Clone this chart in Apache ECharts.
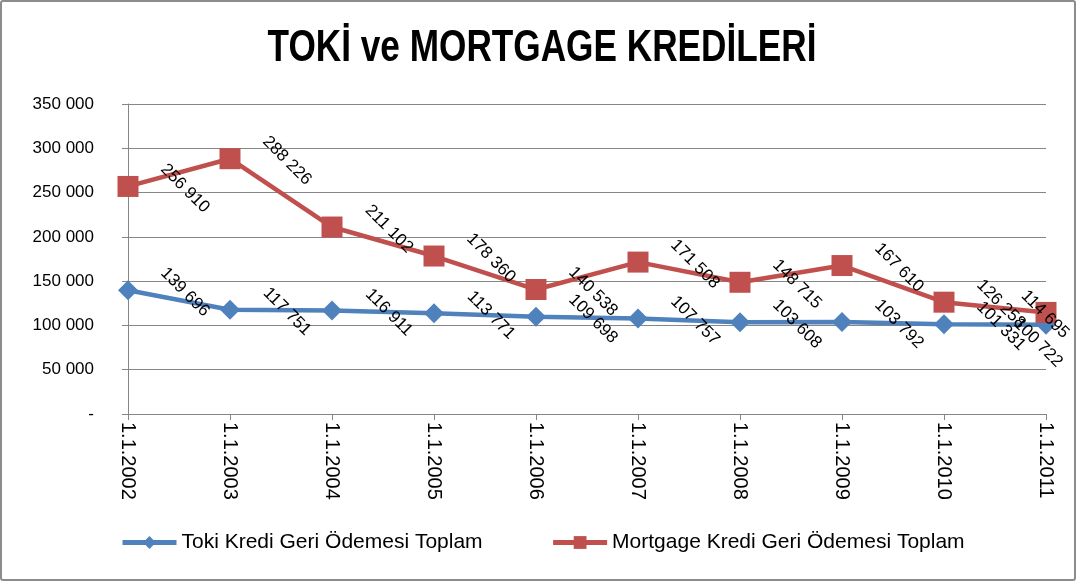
<!DOCTYPE html>
<html>
<head>
<meta charset="utf-8">
<script src="https://cdn.jsdelivr.net/npm/echarts@6/dist/echarts.min.js"></script>
<style>
  html, body { margin: 0; padding: 0; background: #fff; }
  #chart { width: 1076px; height: 581px; box-sizing: border-box; border: 2px solid #8c8c8c; border-radius: 3px; }
</style>
</head>
<body>
<div id="chart"></div>
<script>
// categories and values
var dates = ['1.1.2002', '1.1.2003', '1.1.2004', '1.1.2005', '1.1.2006',
             '1.1.2007', '1.1.2008', '1.1.2009', '1.1.2010', '1.1.2011'];
var toki = [139696, 117751, 116911, 113771, 109698, 107757, 103608, 103792, 101331, 100722];
var mortgage = [256910, 288226, 211102, 178360, 140538, 171508, 148715, 167610, 126258, 114695];

function fmt(v) {
    if (v === 0) return '-';
    return String(v).replace(/\B(?=(\d{3})+(?!\d))/g, ' ');
}

// value label: centered right of the point, slanted down
function valueLabel(half) {
    return {
        show: true,
        position: [half + 57, half + 2],
        align: 'center',
        verticalAlign: 'middle',
        rotate: -45,
        formatter: function (p) { return fmt(p.value); },
        fontFamily: 'Liberation Sans',
        fontSize: 17,
        color: '#000'
    };
}

// the last point's label is pulled back inside the chart, like Excel does
function withLastLabel(values, half, dx, dy) {
    return values.map(function (v, i) {
        if (i < values.length - 1) return v;
        return { value: v, label: { position: [half + dx, half + dy] } };
    });
}

var chart = echarts.init(document.getElementById('chart'));
var option = {
    animation: false,
    graphic: [{
        type: 'text',
        x: 540,
        y: 47,
        scaleX: 0.8,
        style: {
            text: 'TOKİ ve MORTGAGE KREDİLERİ',
            font: 'bold 44px "Liberation Sans"',
            fill: '#000',
            textAlign: 'center',
            textVerticalAlign: 'middle'
        }
    }],
    legend: {
        top: 530,
        left: 118,
        padding: 0,
        itemGap: 68,
        itemWidth: 54,
        itemHeight: 16,
        lineStyle: { width: 5 },
        textStyle: { fontFamily: 'Liberation Sans', fontSize: 21, color: '#000' },
        data: ['Toki Kredi Geri Ödemesi Toplam', 'Mortgage Kredi Geri Ödemesi Toplam']
    },
    grid: { left: 126, right: 28, top: 102, bottom: 165 },
    xAxis: {
        type: 'category',
        boundaryGap: false,
        data: dates,
        axisLine: { lineStyle: { color: '#868686', width: 1 } },
        axisTick: { show: true, length: 6, lineStyle: { color: '#868686' } },
        axisLabel: {
            rotate: -90,
            margin: 8,
            fontFamily: 'Liberation Sans',
            fontSize: 20,
            color: '#000'
        }
    },
    yAxis: {
        type: 'value',
        min: 0,
        max: 350000,
        interval: 50000,
        axisLine: { show: true, lineStyle: { color: '#868686' } },
        axisTick: { show: true, length: 6, lineStyle: { color: '#868686' } },
        splitLine: { lineStyle: { color: '#868686', width: 1 } },
        axisLabel: {
            formatter: fmt,
            margin: 34,
            fontFamily: 'Liberation Sans',
            fontSize: 17,
            color: '#000'
        }
    },
    series: [
        {
            name: 'Toki Kredi Geri Ödemesi Toplam',
            type: 'line',
            data: withLastLabel(toki, 10, -8, 18),
            symbol: 'diamond',
            symbolSize: 20,
            itemStyle: { color: '#4f81bd' },
            lineStyle: { color: '#4f81bd', width: 4.5 },
            label: valueLabel(10)
        },
        {
            name: 'Mortgage Kredi Geri Ödemesi Toplam',
            type: 'line',
            data: withLastLabel(mortgage, 10.5, -1, 2),
            symbol: 'rect',
            symbolSize: 21,
            itemStyle: { color: '#c0504d' },
            lineStyle: { color: '#c0504d', width: 4.5 },
            label: valueLabel(10.5)
        }
    ]
};
chart.setOption(option);
</script>
</body>
</html>
